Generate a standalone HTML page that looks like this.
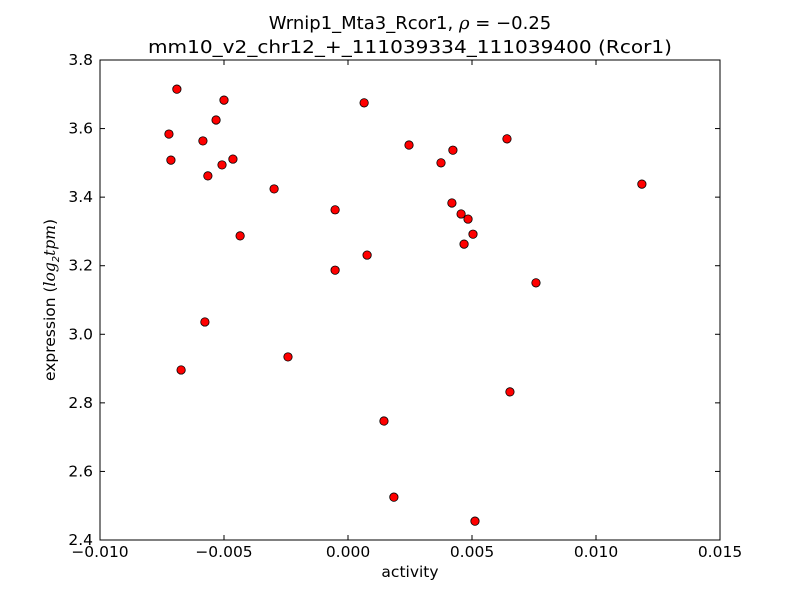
<!DOCTYPE html>
<html><head><meta charset="utf-8"><style>
body{margin:0;background:#fff;}
svg{display:block;font-family:"DejaVu Sans","Liberation Sans",sans-serif;}
</style></head><body>
<svg id="chart" width="800" height="600" xmlns="http://www.w3.org/2000/svg">
<rect width="800" height="600" fill="#fff"/>
<text x="410" y="29" text-anchor="middle" font-size="18">Wrnip1_Mta3_Rcor1, <tspan font-style="italic" font-family="'DejaVu Serif',serif">ρ</tspan> = −0.25</text>
<text x="410" y="53" text-anchor="middle" font-size="18" textLength="524" lengthAdjust="spacingAndGlyphs">mm10_v2_chr12_+_111039334_111039400 (Rcor1)</text>
<g id="ticks"></g>
<g id="points"></g>
<rect x="100" y="60" width="620" height="480" fill="none" stroke="#000" stroke-width="1"/>
<text x="410" y="577" text-anchor="middle" font-size="15.5">activity</text>
<text transform="translate(55,300) rotate(-90)" text-anchor="middle" font-size="15.5">expression (<tspan font-style="italic" font-family="'DejaVu Serif',serif">log</tspan><tspan font-size="10" dy="4" font-style="italic">2</tspan><tspan dy="-4" font-style="italic" font-family="'DejaVu Serif',serif">tpm</tspan>)</text>
</svg>
<script>
const xTicks=[-0.010,-0.005,0.000,0.005,0.010,0.015];
const xTickLabels=["−0.010","−0.005","0.000","0.005","0.010","0.015"];
const yTicks=[2.4,2.6,2.8,3.0,3.2,3.4,3.6,3.8];
const yTickLabels=["2.4","2.6","2.8","3.0","3.2","3.4","3.6","3.8"];
const activity=[-0.00690,-0.00722,-0.00714,-0.00500,-0.00532,-0.00585,-0.00464,-0.00508,-0.00565,-0.00298,-0.00435,-0.00577,-0.00673,-0.00242,0.00065,-0.00052,-0.00052,0.00077,0.00246,0.00375,0.00423,0.00419,0.00456,0.00484,0.00504,0.00468,0.00641,0.00758,0.00653,0.00145,0.00185,0.00512,0.01185];
const expression=[3.715,3.584,3.508,3.683,3.625,3.564,3.511,3.494,3.462,3.424,3.287,3.036,2.896,2.934,3.675,3.363,3.187,3.231,3.552,3.500,3.537,3.383,3.351,3.336,3.292,3.263,3.570,3.150,2.832,2.747,2.525,2.455,3.438];
const NS="http://www.w3.org/2000/svg";
const xs=v=>100+(v+0.010)/0.025*620;
const ys=v=>540-(v-2.4)/1.4*480;
const tg=document.getElementById('ticks');
function mk(tag,attrs,parent){const e=document.createElementNS(NS,tag);for(const k in attrs)e.setAttribute(k,attrs[k]);parent.appendChild(e);return e;}
xTicks.forEach((t,i)=>{const x=xs(t);
 const l1=mk('line',{x1:x,x2:x,y1:540,y2:535,stroke:'#000'},tg);
 
 
 mk('line',{x1:x,x2:x,y1:60,y2:65,stroke:'#000'},tg);
 const tx=mk('text',{x:x,y:557,'text-anchor':'middle','font-size':15.5},tg);tx.textContent=xTickLabels[i];
 
 
});
yTicks.forEach((t,i)=>{const y=ys(t);
 const l1=mk('line',{x1:100,x2:105,y1:y,y2:y,stroke:'#000'},tg);
 
 
 mk('line',{x1:715,x2:720,y1:y,y2:y,stroke:'#000'},tg);
 const tx=mk('text',{x:93,y:y+5,'text-anchor':'end','font-size':15.5},tg);tx.textContent=yTickLabels[i];
 
 
});
const pg=document.getElementById('points');
activity.forEach((a,i)=>{
 const c=mk('circle',{cx:xs(a),cy:ys(expression[i]),r:4.2,fill:'#ff0000',stroke:'#000','stroke-width':0.8},pg);
 
 
});
</script>
</body></html>
